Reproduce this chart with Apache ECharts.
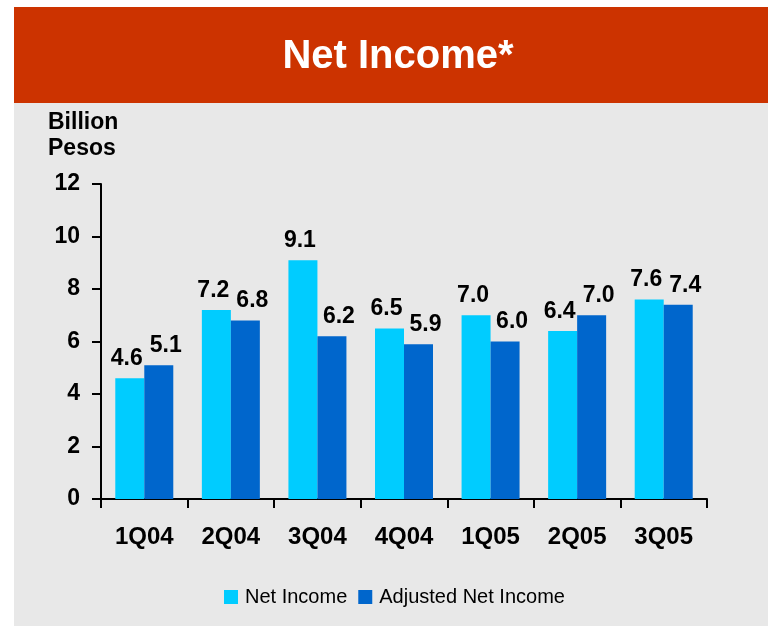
<!DOCTYPE html>
<html>
<head>
<meta charset="utf-8">
<script src="https://cdn.jsdelivr.net/npm/echarts@6/dist/echarts.min.js"></script>
<style>
  html, body { margin: 0; padding: 0; background: #ffffff; }
  #chart { width: 768px; height: 626px; }
</style>
</head>
<body>
<div id="chart"></div>
<script>
// Quarterly net income, billion pesos
const quarters = ['1Q04', '2Q04', '3Q04', '4Q04', '1Q05', '2Q05', '3Q05'];
const netIncome = [4.6, 7.2, 9.1, 6.5, 7.0, 6.4, 7.6];
const adjustedNetIncome = [5.1, 6.8, 6.2, 5.9, 6.0, 7.0, 7.4];
const yTicks = [0, 2, 4, 6, 8, 10, 12];

const FONT = '"Liberation Sans", Arial, sans-serif';

const chart = echarts.init(document.getElementById('chart'));

// Value labels above each bar; the two series are nudged apart so paired labels don't collide
function valueLabel(dx) {
  return {
    show: true,
    position: 'top',
    distance: 8,
    offset: [dx, 0],
    color: '#000',
    fontFamily: FONT,
    fontWeight: 'bold',
    fontSize: 23,
    formatter: p => p.value.toFixed(1)
  };
}

chart.setOption({
  animation: false,
  backgroundColor: '#ffffff',
  graphic: [
    { type: 'rect', shape: { x: 14, y: 103, width: 754, height: 523 }, style: { fill: '#e8e8e8' }, z: -10 },
    { type: 'rect', shape: { x: 14, y: 7, width: 754, height: 96 }, style: { fill: '#cc3300' }, z: -10 },
    {
      type: 'text', x: 398, y: 57,
      style: {
        text: 'Net Income*', fill: '#ffffff', font: 'bold 40px ' + FONT,
        textAlign: 'center', textVerticalAlign: 'middle'
      }
    },
    {
      type: 'text', x: 48, y: 110,
      style: { text: 'Billion\nPesos', fill: '#000', font: 'bold 23px ' + FONT, lineHeight: 26 }
    }
  ],
  grid: { left: 101, right: 61, top: 184, bottom: 127, containLabel: false },
  legend: {
    top: 582,
    left: 219,
    itemWidth: 14,
    itemHeight: 14,
    itemGap: 11,
    icon: 'rect',
    textStyle: { fontFamily: FONT, fontSize: 20, color: '#000', padding: [0, 0, 0, 2] },
    data: ['Net Income', 'Adjusted Net Income']
  },
  xAxis: {
    type: 'category',
    data: quarters,
    axisLine: { lineStyle: { color: '#000', width: 2 } },
    axisTick: { show: true, inside: false, length: 9, lineStyle: { color: '#000', width: 2 } },
    axisLabel: { margin: 26, color: '#000', fontFamily: FONT, fontWeight: 'bold', fontSize: 24 }
  },
  yAxis: {
    type: 'value',
    min: 0, max: 12, interval: 2,
    splitLine: { show: false },
    axisLine: { show: true, lineStyle: { color: '#000', width: 2 } },
    axisTick: { show: true, length: 9, lineStyle: { color: '#000', width: 2 } },
    axisLabel: {
      margin: 21, color: '#000', fontFamily: FONT, fontWeight: 'bold', fontSize: 23,
      formatter: v => yTicks.includes(v) ? String(v) : ''
    }
  },
  series: [
    {
      name: 'Net Income', type: 'bar', data: netIncome,
      barWidth: 29, barGap: '0%',
      itemStyle: { color: '#00ccff' },
      label: valueLabel(-3)
    },
    {
      name: 'Adjusted Net Income', type: 'bar', data: adjustedNetIncome,
      barWidth: 29, barGap: '0%',
      itemStyle: { color: '#0066cc' },
      label: valueLabel(7)
    }
  ]
});
</script>
</body>
</html>
